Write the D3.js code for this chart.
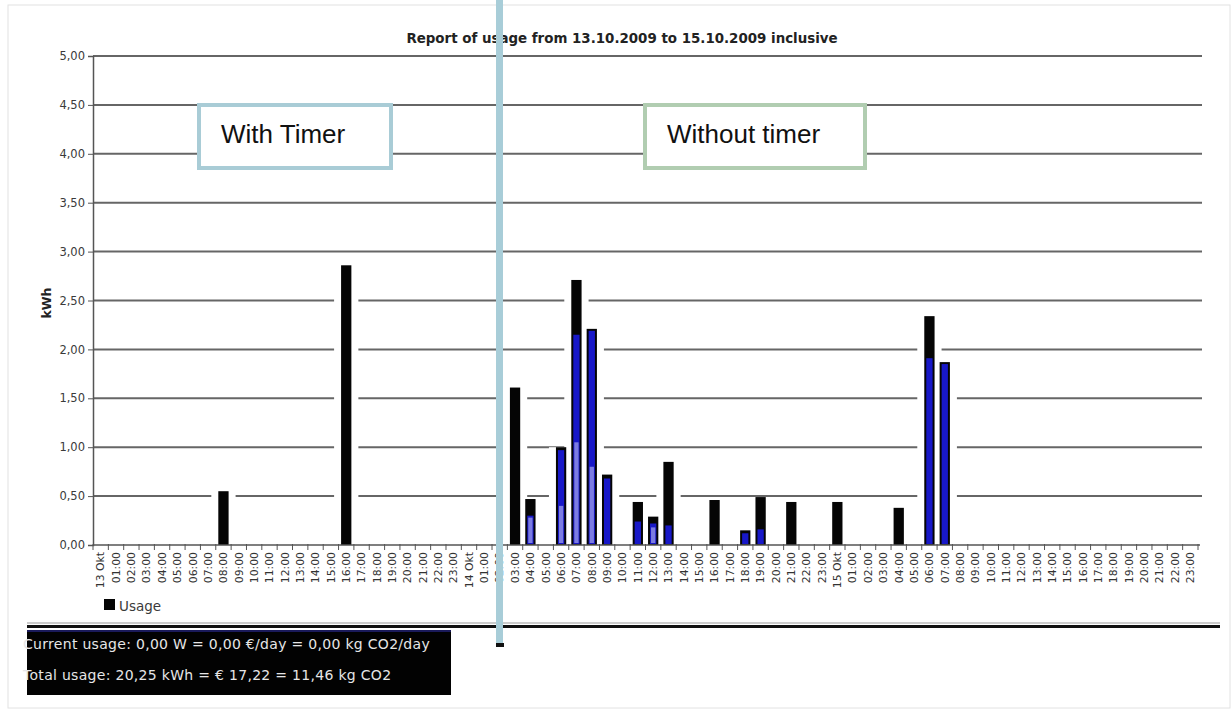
<!DOCTYPE html>
<html lang="en">
<head>
<meta charset="utf-8">
<title>Report of usage</title>
<script src="https://d3js.org/d3.v7.min.js"></script>
<style>
  body { margin: 0; background: #fff; }
  svg { display: block; font-family: "DejaVu Sans", sans-serif; }
</style>
</head>
<body>
<script>
// tick labels: day name at midnight, then hour labels
const days = ["13 Okt", "14 Okt", "15 Okt"];
const hourLabels = ["", "01:00", "02:00", "03:00", "04:00", "05:00", "06:00", "07:00",
  "08:00", "09:00", "10:00", "11:00", "12:00", "13:00", "14:00", "15:00",
  "16:00", "17:00", "18:00", "19:00", "20:00", "21:00", "22:00", "23:00"];
const yTicks = [0, 0.5, 1, 1.5, 2, 2.5, 3, 3.5, 4, 4.5, 5];

// hourly usage in kWh (black bars)
const usage13 = [0,0,0,0,0,0,0,0,0.55,0,0,0,0,0,0,0,2.86,0,0,0,0,0,0,0];
const usage14 = [0,0,0,1.61,0.47,0,1.00,2.71,2.21,0.72,0,0.44,0.29,0.85,0,0,0.46,0,0.15,0.49,0,0.44,0,0];
const usage15 = [0.44,0,0,0,0.38,0,2.34,1.87,0,0,0,0,0,0,0,0,0,0,0,0,0,0,0,0];

// blue inner fill of the bars, and the pale part at the bottom of some of them
const blue13 = [0,0,0,0,0,0,0,0,0,0,0,0,0,0,0,0,0,0,0,0,0,0,0,0];
const blue14 = [0,0,0,0,0.30,0,0.97,2.15,2.19,0.68,0,0.24,0.22,0.20,0,0,0,0,0.12,0.16,0,0,0,0];
const blue15 = [0,0,0,0,0,0,1.91,1.85,0,0,0,0,0,0,0,0,0,0,0,0,0,0,0,0];
const pale13 = [0,0,0,0,0,0,0,0,0,0,0,0,0,0,0,0,0,0,0,0,0,0,0,0];
const pale14 = [0,0,0,0,0.28,0,0.40,1.05,0.80,0,0,0,0.18,0,0,0,0,0,0,0,0,0,0,0];
const pale15 = [0,0,0,0,0,0,0,0,0,0,0,0,0,0,0,0,0,0,0,0,0,0,0,0];

const width = 1232, height = 709;
const plotLeft = 93, plotRight = 1198, plotTop = 56, plotBottom = 545;

const usageByDay = [usage13, usage14, usage15];
const blueByDay = [blue13, blue14, blue15];
const paleByDay = [pale13, pale14, pale15];

const dataset = [];
days.forEach((day, i) => {
  hourLabels.forEach((h, j) => {
    dataset.push({
      key: i * 24 + j,
      label: j === 0 ? day : h,
      usage: usageByDay[i][j],
      blue: blueByDay[i][j],
      pale: paleByDay[i][j]
    });
  });
});

const svg = d3.select("body").append("svg")
  .attr("width", width)
  .attr("height", height);

svg.append("rect").attr("width", width).attr("height", height).attr("fill", "#fff");

// faint outer frame
svg.append("rect")
  .attr("x", 8).attr("y", 5).attr("width", 1222).attr("height", 703)
  .attr("fill", "none").attr("stroke", "#e2e2e2").attr("stroke-width", 1);

const xScale = d3.scaleBand()
  .domain(dataset.map(d => d.key))
  .range([plotLeft, plotRight])
  .paddingInner(0.33)
  .paddingOuter(0.165);

const yScale = d3.scaleLinear()
  .domain([0, 5])
  .range([plotBottom, plotTop]);

const step = xScale.step();

// gridlines
svg.append("g")
  .selectAll("line")
  .data(yTicks.filter(d => d > 0))
  .join("line")
  .attr("x1", plotLeft).attr("x2", 1202)
  .attr("y1", d => yScale(d)).attr("y2", d => yScale(d))
  .attr("stroke", "#666").attr("stroke-width", 2);

const bars = dataset.filter(d => d.usage > 0);

// white halo round the bars that cuts the gridlines
svg.append("g")
  .selectAll("rect")
  .data(bars)
  .join("rect")
  .attr("x", d => xScale(d.key) - 7)
  .attr("y", d => yScale(d.usage))
  .attr("width", xScale.bandwidth() + 14)
  .attr("height", d => plotBottom - yScale(d.usage))
  .attr("fill", "#fff");

// black bars
svg.append("g")
  .selectAll("rect")
  .data(bars)
  .join("rect")
  .attr("x", d => xScale(d.key))
  .attr("y", d => yScale(d.usage))
  .attr("width", xScale.bandwidth())
  .attr("height", d => plotBottom - yScale(d.usage))
  .attr("fill", "#050505");

// blue inner fill
svg.append("g")
  .selectAll("rect")
  .data(bars.filter(d => d.blue > 0))
  .join("rect")
  .attr("x", d => xScale(d.key) + 2)
  .attr("y", d => yScale(d.blue))
  .attr("width", xScale.bandwidth() - 4)
  .attr("height", d => plotBottom - 1 - yScale(d.blue))
  .attr("fill", "#1818c8");

svg.append("g")
  .selectAll("rect")
  .data(bars.filter(d => d.pale > 0))
  .join("rect")
  .attr("x", d => xScale(d.key) + 3)
  .attr("y", d => yScale(d.pale))
  .attr("width", xScale.bandwidth() - 6)
  .attr("height", d => plotBottom - 2 - yScale(d.pale))
  .attr("fill", "#8e8ee6")
  .attr("opacity", 0.85);

// y axis
const leftAxis = d3.axisLeft(yScale)
  .tickValues(yTicks)
  .tickSize(5)
  .tickPadding(3)
  .tickFormat(d => d.toFixed(2).replace(".", ","));

const gy = svg.append("g")
  .attr("transform", "translate(" + plotLeft + ",0)")
  .call(leftAxis);
gy.select(".domain").attr("stroke", "#555").attr("stroke-width", 1.5);
gy.selectAll(".tick line").attr("stroke", "#555");
gy.selectAll("text").attr("font-size", 11.5).attr("fill", "#3a3a3a")
  .attr("font-family", "DejaVu Sans");

// x axis labels
const bottomAxis = d3.axisBottom(xScale)
  .tickSize(0)
  .tickFormat(k => dataset[k].label);

const gx = svg.append("g")
  .attr("transform", "translate(0," + plotBottom + ")")
  .call(bottomAxis);
gx.select(".domain").remove();
gx.selectAll("text")
  .attr("transform", "rotate(-90)")
  .attr("text-anchor", "end")
  .attr("x", -7)
  .attr("y", 0)
  .attr("dy", "0.35em")
  .attr("font-size", 10.8)
  .attr("fill", "#333")
  .attr("font-family", "DejaVu Sans");

// x axis line with ticks between the hours
svg.append("line")
  .attr("x1", plotLeft).attr("x2", plotRight + 2)
  .attr("y1", plotBottom).attr("y2", plotBottom)
  .attr("stroke", "#555").attr("stroke-width", 1.5);

svg.append("g")
  .selectAll("line")
  .data(dataset.map(d => d.key).concat([dataset.length]))
  .join("line")
  .attr("x1", k => plotLeft + k * step).attr("x2", k => plotLeft + k * step)
  .attr("y1", plotBottom - 1).attr("y2", plotBottom + 5)
  .attr("stroke", "#555");

// title
svg.append("text")
  .attr("x", 622).attr("y", 43)
  .attr("text-anchor", "middle")
  .attr("font-size", 13.4).attr("font-weight", "bold").attr("fill", "#222")
  .text("Report of usage from 13.10.2009 to 15.10.2009 inclusive");

// y axis title
svg.append("text")
  .attr("transform", "translate(51,303) rotate(-90)")
  .attr("text-anchor", "middle")
  .attr("font-size", 12.5).attr("font-weight", "bold").attr("fill", "#222")
  .text("kWh");

// legend
svg.append("rect").attr("x", 104).attr("y", 599).attr("width", 11).attr("height", 11).attr("fill", "#050505");
svg.append("text").attr("x", 119).attr("y", 611)
  .attr("font-size", 13.5).attr("fill", "#3a3a3a").text("Usage");

// bottom rule and status panel
svg.append("line").attr("x1", 27).attr("x2", 1220).attr("y1", 623).attr("y2", 623)
  .attr("stroke", "#999").attr("stroke-width", 1);
svg.append("line").attr("x1", 27).attr("x2", 1220).attr("y1", 626.5).attr("y2", 626.5)
  .attr("stroke", "#111").attr("stroke-width", 3);

svg.append("rect").attr("x", 27).attr("y", 630).attr("width", 424).attr("height", 65).attr("fill", "#020202");
svg.append("rect").attr("x", 27).attr("y", 630).attr("width", 424).attr("height", 2).attr("fill", "#1a1a5a");

const statusLines = [
  "Current usage: 0,00 W = 0,00 \u20ac/day = 0,00 kg CO2/day",
  "Total usage: 20,25 kWh = \u20ac 17,22 = 11,46 kg CO2"
];
svg.append("g")
  .selectAll("text")
  .data(statusLines)
  .join("text")
  .attr("x", 23)
  .attr("y", (d, i) => 649 + i * 31)
  .attr("font-size", 14)
  .attr("letter-spacing", 0.3)
  .attr("fill", "#e6e6e6")
  .text(d => d);

// annotation: divider line and the two labels
svg.append("rect").attr("x", 496).attr("y", 0).attr("width", 7).attr("height", 643).attr("fill", "#a8cdd8");
svg.append("rect").attr("x", 496).attr("y", 643).attr("width", 8).attr("height", 4).attr("fill", "#111");

const notes = [
  { text: "With Timer", x: 199, w: 192, color: "#a9ccd6" },
  { text: "Without timer", x: 645, w: 220, color: "#b1cdb1" }
];
const ng = svg.append("g").selectAll("g").data(notes).join("g");
ng.append("rect")
  .attr("x", d => d.x).attr("y", 105).attr("width", d => d.w).attr("height", 63)
  .attr("fill", "#fff").attr("stroke", d => d.color).attr("stroke-width", 4);
ng.append("text")
  .attr("x", d => d.x + 22).attr("y", 143)
  .attr("font-family", "Liberation Sans, Arial, sans-serif")
  .attr("font-size", 26).attr("fill", "#111")
  .text(d => d.text);
</script>
</body>
</html>
